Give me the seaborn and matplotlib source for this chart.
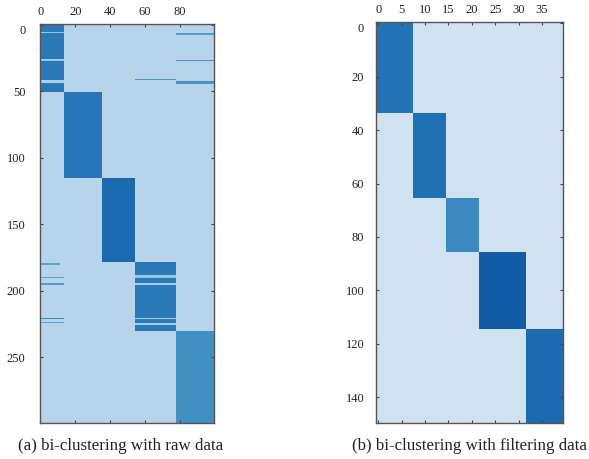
import numpy as np
import pandas as pd
import seaborn as sns
from matplotlib import pyplot as plt

plt.rcParams['font.family'] = ['Liberation Serif', 'DejaVu Serif']

# raw data panel: block edges
raw_cols = [0, 14, 36, 55, 78, 100]
raw_rows = [0, 51, 116, 179, 231, 300]
raw_levels = [0.72, 0.73, 0.78, 0.72, 0.63]
raw_bg = 0.3
# (row, first col, last col, level) thin lines
raw_stripes = [
    (6, 0, 14, 0.4), (26, 0, 14, 0.35), (27, 0, 14, 0.4), (42, 0, 14, 0.33), (43, 0, 14, 0.33),
    (7, 78, 100, 0.58), (27, 78, 100, 0.62), (43, 78, 100, 0.62), (44, 78, 100, 0.6),
    (41, 55, 78, 0.6),
    (180, 0, 12, 0.55), (190, 0, 14, 0.55), (195, 0, 14, 0.58),
    (221, 0, 14, 0.65), (224, 0, 14, 0.55),
    (189, 55, 78, 0.38), (190, 55, 78, 0.42), (195, 55, 78, 0.35),
    (221, 55, 78, 0.35), (225, 55, 78, 0.35),
]

# filtered data panel
flt_cols = [0, 8, 15, 22, 32, 40]
flt_rows = [0, 34, 66, 86, 115, 150]
flt_levels = [0.74, 0.75, 0.65, 0.83, 0.77]
flt_bg = 0.2

raw_xticks = [0, 20, 40, 60, 80]
raw_yticks = [0, 50, 100, 150, 200, 250]
flt_xticks = [0, 5, 10, 15, 20, 25, 30, 35]
flt_yticks = [0, 20, 40, 60, 80, 100, 120, 140]


def build_matrix(rows, cols, levels, bg, stripes=()):
    m = np.full((rows[-1], cols[-1]), bg)
    for i, lev in enumerate(levels):
        m[rows[i]:rows[i + 1], cols[i]:cols[i + 1]] = lev
    for r, c0, c1, lev in stripes:
        m[r, c0:c1] = lev
    return pd.DataFrame(m)


def draw_panel(ax, df, xticks, yticks, pad_y):
    sns.heatmap(df, ax=ax, cmap='Blues', vmin=0, vmax=1, cbar=False,
                xticklabels=False, yticklabels=False)
    ax.set_xticks([t + 0.5 for t in xticks])
    ax.set_xticklabels(xticks, rotation=0)
    ax.set_yticks([t + 0.5 for t in yticks])
    ax.set_yticklabels(yticks, rotation=0)
    ax.tick_params(axis='x', top=True, bottom=True, labeltop=True, labelbottom=False,
                   direction='in', length=2, width=0.8, pad=4, labelsize=9,
                   color='#444444', labelcolor='#222222')
    ax.tick_params(axis='y', left=True, right=True, direction='in', length=2, width=0.8,
                   pad=pad_y, labelsize=9, color='#444444', labelcolor='#222222')
    ax.get_yticklabels()[0].set_va('top')
    for s in ax.spines.values():
        s.set_visible(True)
        s.set_color('#555555')
        s.set_linewidth(1)


fig = plt.figure(figsize=(5.89, 4.59), dpi=100)
W, H = 589.0, 459.0
ax1 = fig.add_axes([39.5 / W, 1 - 423 / H, 174.5 / W, 399 / H])
ax2 = fig.add_axes([376 / W, 1 - 422.5 / H, 187 / W, 400.5 / H])

draw_panel(ax1, build_matrix(raw_rows, raw_cols, raw_levels, raw_bg, raw_stripes),
           raw_xticks, raw_yticks, 10)
draw_panel(ax2, build_matrix(flt_rows, flt_cols, flt_levels, flt_bg),
           flt_xticks, flt_yticks, 8.5)

fig.text(120.5 / W, 1 - 446 / H, '(a) bi-clustering with raw data', ha='center', va='center',
         fontsize=12.2, color='#222222')
fig.text(470 / W, 1 - 446 / H, '(b) bi-clustering with filtering data', ha='center', va='center',
         fontsize=12.2, color='#222222')

plt.savefig('out.png', dpi=100)
